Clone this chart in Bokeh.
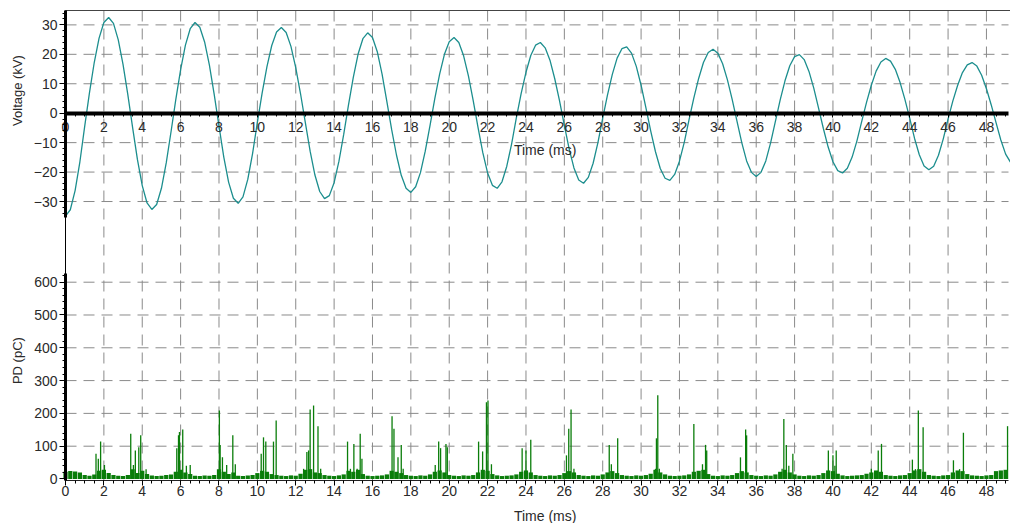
import numpy as np
from bokeh.plotting import figure
from bokeh.models import Range1d, LinearAxis, SingleIntervalTicker, Label
from bokeh.embed import file_html
from bokeh.resources import INLINE

# ---------------- data ----------------
SAMPLE_MS = 0.25  # spacing of the listed samples

# Voltage (kV) every 0.25 ms, t = 0 ... 49.25 ms
voltage_kv = [
    -35.0, -32.8, -26.3, -16.5, -4.5,
    7.0, 17.3, 25.5, 30.8, 32.5, 30.5, 24.9, 16.5, 6.2,
    -5.0, -15.8, -24.6, -30.5, -32.7, -31.0, -25.5, -16.9, -6.3,
    4.7, 14.8, 23.1, 28.7, 30.8, 29.2, 24.2, 16.3, 6.4,
    -4.4, -14.9, -23.4, -28.9, -30.6, -28.4, -22.5, -13.7, -3.1,
    6.9, 15.8, 23.0, 27.6, 29.1, 27.4, 22.7, 15.5, 6.6,
    -3.2, -12.9, -21.0, -26.6, -29.0, -28.0, -23.6, -16.4, -7.2,
    2.8, 12.2, 20.1, 25.3, 27.3, 25.7, 20.9, 13.3, 3.9,
    -5.6, -14.2, -21.1, -25.5, -26.9, -25.0, -20.2, -12.9, -4.1,
    5.0, 13.3, 20.0, 24.3, 25.7, 24.0, 19.5, 12.7, 4.3,
    -4.8, -13.4, -20.3, -24.5, -25.5, -23.3, -18.0, -10.5, -1.5,
    6.7, 13.9, 19.6, 23.1, 24.0, 22.2, 18.0, 11.7, 4.2,
    -4.1, -12.1, -18.6, -22.7, -23.8, -21.8, -17.0, -10.0, -1.7,
    6.2, 13.2, 18.7, 21.9, 22.5, 20.4, 15.9, 9.5, 1.9,
    -6.0, -13.1, -18.8, -22.1, -22.8, -20.8, -16.3, -9.9, -2.2,
    5.2, 11.8, 17.2, 20.6, 21.7, 20.4, 16.8, 11.3, 4.6,
    -2.8, -10.1, -16.2, -20.1, -21.5, -20.1, -16.2, -10.1, -2.8,
    4.5, 11.0, 16.1, 19.2, 19.9, 18.2, 14.2, 8.5, 1.7,
    -5.2, -11.5, -16.5, -19.5, -20.3, -18.7, -14.9, -9.4, -2.8,
    3.7, 9.5, 14.3, 17.4, 18.6, 17.7, 14.9, 10.4, 4.7,
    -1.7, -8.5, -14.1, -17.9, -19.2, -18.0, -14.3, -8.7, -2.0,
    4.2, 9.5, 13.8, 16.4, 17.2, 16.0, 12.9, 8.3, 2.8,
    -3.2, -9.1, -13.9, -16.6,
]

# PD noise floor (pC) every 0.25 ms, t = 0 ... 49 ms
pd_floor_pc = [
    22, 24, 23, 20, 12, 10, 14, 25, 28, 18, 12, 10, 9, 12, 30, 18,
    25, 15, 11, 9, 10, 12, 14, 22, 28, 20, 15, 10, 9, 11, 10, 12,
    30, 22, 15, 20, 10, 9, 11, 12, 18, 25, 22, 15, 12, 10, 9, 11,
    10, 16, 28, 30, 20, 18, 12, 10, 9, 11, 14, 25, 22, 28, 15, 10,
    9, 10, 11, 14, 25, 22, 18, 12, 10, 9, 11, 10, 14, 22, 26, 20,
    12, 10, 9, 11, 10, 12, 20, 28, 25, 15, 11, 9, 10, 11, 14, 22,
    26, 20, 12, 10, 9, 11, 10, 12, 18, 24, 20, 12, 10, 9, 11, 10,
    14, 20, 24, 18, 12, 10, 9, 11, 10, 12, 16, 28, 20, 14, 10, 9,
    10, 11, 14, 22, 25, 28, 15, 10, 9, 11, 10, 12, 18, 24, 20, 12,
    10, 9, 11, 10, 14, 22, 28, 20, 14, 10, 9, 11, 10, 12, 18, 26,
    24, 16, 11, 9, 10, 11, 12, 16, 20, 26, 22, 12, 10, 9, 11, 12,
    18, 26, 30, 22, 12, 10, 9, 11, 12, 20, 26, 24, 15, 11, 10, 9,
    11, 12, 24, 26, 28,
]

# PD pulses: time (ms) and magnitude (pC)
spike_time_ms = [
    1.59, 1.71, 1.83, 2.03,
    3.40, 3.54, 3.64, 3.82, 3.92, 4.20,
    5.80, 5.89, 5.94, 6.11, 6.30, 6.50,
    8.02, 8.06, 8.18, 8.40, 8.72, 8.85,
    10.20, 10.32, 10.44, 10.84, 10.98,
    12.41, 12.58, 12.67, 12.75, 12.93, 13.16, 13.30,
    14.70, 14.85, 15.03, 15.20, 15.36, 15.45,
    17.02, 17.12, 17.33, 17.50, 17.60,
    19.27, 19.45, 19.55, 19.83, 19.90,
    21.53, 21.74, 21.94, 22.02, 22.20,
    23.80, 24.00, 24.25,
    26.11, 26.23, 26.35, 26.50,
    28.34, 28.45, 28.78,
    30.75, 30.80, 30.87, 30.95,
    32.75, 33.20, 33.36, 33.42,
    35.18, 35.45, 35.50,
    37.35, 37.44, 37.57, 37.70, 37.91,
    39.76, 40.00, 40.10, 40.17,
    42.00, 42.36, 42.53,
    44.14, 44.30, 44.45, 44.70,
    46.28, 46.60, 46.80,
    49.10,
]
spike_pc = [
    77, 62, 114, 43,
    138, 43, 87, 97, 133, 30,
    94, 133, 143, 151, 40, 43,
    209, 104, 66, 43, 133, 45,
    77, 127, 114, 114, 178,
    31, 82, 87, 212, 224, 161, 31,
    114, 31, 107, 31, 138, 62,
    191, 153, 66, 104, 31,
    43, 114, 94, 107, 97,
    114, 84, 234, 239, 45,
    94, 87, 120,
    72, 153, 212, 31,
    104, 45, 124,
    31, 124, 255, 31,
    168, 45, 104, 87,
    66, 151, 133,
    31, 183, 104, 40, 77,
    87, 72, 40, 87,
    31, 87, 107,
    59, 30, 209, 158,
    57, 30, 141,
    161,
]

voltage_grid_kv = [-30, -20, -10, 10, 20, 30]
pd_grid_pc = [100, 200, 300, 400, 500, 600]
time_grid_ms = list(range(2, 50, 2))

t_volt = np.arange(len(voltage_kv)) * SAMPLE_MS
t_floor = np.arange(len(pd_floor_pc)) * SAMPLE_MS

# ---------------- geometry (data extents of the two panels) ----------------
T_END = 49.15          # right end of the time axis (ms)
V_TOP = 34.88          # top edge of the voltage panel (kV)
V_AXIS_LOW = -35.4     # lower end of the thick voltage axis (kV)
V_FRAME_LOW = -124.76  # voltage value at the bottom time axis
PD_AXIS_TOP = 626      # upper end of the thick PD axis (pC)

# ---------------- styling ----------------
FONT = "Liberation Sans"
TEAL = "#1c8e8e"
GREEN = "#0a7d0a"
GRID = "#8a8a8a"
DASH = "11 7"
TXT = "#2a2a2a"

p = figure(width=1010, height=523, output_backend="svg", toolbar_location=None,
           x_range=Range1d(-3.388, 49.254), y_range=Range1d(-139.37, 38.28),
           x_axis_type=None, y_axis_type=None, min_border=0)
p.extra_y_ranges = {"pd": Range1d(-135.7, 1458.8)}
p.outline_line_color = None
p.background_fill_color = "white"
p.border_fill_color = "white"

# dashed grid lines, drawn from the tick arrays
n_t = len(time_grid_ms)
p.segment(x0=time_grid_ms, y0=[V_TOP] * n_t, x1=time_grid_ms, y1=[V_FRAME_LOW] * n_t,
          line_color=GRID, line_dash=DASH, line_width=1)
n_v = len(voltage_grid_kv)
p.segment(x0=[0] * n_v, y0=voltage_grid_kv, x1=[T_END] * n_v, y1=voltage_grid_kv,
          line_color=GRID, line_dash=DASH, line_width=1)
n_p = len(pd_grid_pc)
p.segment(x0=[0] * n_p, y0=pd_grid_pc, x1=[T_END] * n_p, y1=pd_grid_pc,
          y_range_name="pd", line_color=GRID, line_dash=DASH, line_width=1)

# frame edges (top border, thin left border)
p.segment(x0=[0], y0=[V_TOP], x1=[49.254], y1=[V_TOP], line_color="#444444", line_width=1)
p.segment(x0=[0], y0=[V_TOP], x1=[0], y1=[V_FRAME_LOW], line_color="black", line_width=1)

# data
p.vbar(x=t_floor, top=pd_floor_pc, bottom=0, width=0.22, y_range_name="pd",
       fill_color=GREEN, line_color=None)
p.segment(x0=spike_time_ms, y0=0, x1=spike_time_ms, y1=spike_pc, y_range_name="pd",
          line_color=GREEN, line_width=1.3)
p.line(t_volt, voltage_kv, line_color=TEAL, line_width=1.3)


def style_axis(ax, size="14px"):
    ax.major_label_text_font = FONT
    ax.major_label_text_font_size = size
    ax.major_label_text_color = TXT
    ax.major_tick_line_color = "black"
    ax.minor_tick_line_color = "black"
    ax.major_tick_in = 0
    ax.minor_tick_in = 0


# voltage axis
ax_v = LinearAxis(fixed_location=0,
                  ticker=SingleIntervalTicker(interval=10, num_minor_ticks=5),
                  bounds=(V_AXIS_LOW, V_TOP))
style_axis(ax_v)
ax_v.axis_line_width = 3
ax_v.axis_line_color = "black"
ax_v.major_tick_out = 6
ax_v.minor_tick_out = 3
ax_v.major_label_standoff = 2
p.add_layout(ax_v, "left")

# PD axis
ax_pd = LinearAxis(y_range_name="pd", fixed_location=0,
                   ticker=SingleIntervalTicker(interval=100, num_minor_ticks=5),
                   bounds=(-4.57, PD_AXIS_TOP))
style_axis(ax_pd)
ax_pd.axis_line_width = 3
ax_pd.axis_line_color = "black"
ax_pd.major_tick_out = 6
ax_pd.minor_tick_out = 3
ax_pd.major_label_standoff = 2
p.add_layout(ax_pd, "left")

# time axis through 0 kV
ax_t0 = LinearAxis(fixed_location=0, bounds=(0, T_END),
                   ticker=SingleIntervalTicker(interval=2, num_minor_ticks=4))
style_axis(ax_t0)
ax_t0.axis_line_width = 4
ax_t0.axis_line_color = "black"
ax_t0.major_tick_out = 4
ax_t0.minor_tick_out = 3
ax_t0.major_label_standoff = 5
p.add_layout(ax_t0, "below")

# bottom time axis (below the PD panel)
ax_b = LinearAxis(fixed_location=V_FRAME_LOW, bounds=(0, T_END),
                  ticker=SingleIntervalTicker(interval=2, num_minor_ticks=4))
style_axis(ax_b)
ax_b.axis_line_color = "#222222"
ax_b.major_tick_out = 5
ax_b.minor_tick_out = 3
ax_b.major_label_standoff = 1
p.add_layout(ax_b, "below")

# titles
p.add_layout(Label(x=-2.476, y=7.7, text="Voltage (kV)", angle=np.pi / 2,
                   text_align="center", text_baseline="middle", text_font=FONT,
                   text_font_size="13px", text_color=TXT))
p.add_layout(Label(x=-2.476, y=361, y_range_name="pd", text="PD (pC)", angle=np.pi / 2,
                   text_align="center", text_baseline="middle", text_font=FONT,
                   text_font_size="13px", text_color=TXT))
p.add_layout(Label(x=25.0, y=-12.67, text="Time (ms)",
                   text_align="center", text_baseline="middle", text_font=FONT,
                   text_font_size="14px", text_color=TXT))
p.add_layout(Label(x=25.0, y=-136.99, text="Time (ms)",
                   text_align="center", text_baseline="middle", text_font=FONT,
                   text_font_size="14px", text_color=TXT))

open("out.html", "w").write(file_html(p, INLINE))
